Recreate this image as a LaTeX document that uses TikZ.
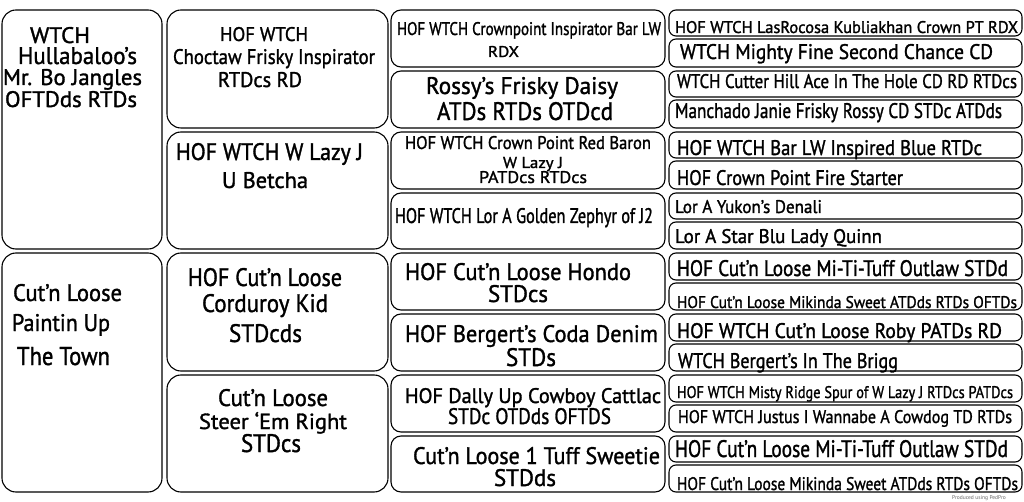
\documentclass[tikz,border=0pt]{standalone}
\usepackage{graphicx}
\usepackage{fontspec}
\setmainfont{PT Sans}
\newfontfamily\pedfont{PT Sans}[FakeBold=1.4]
\newcommand{\fitline}[4]{\resizebox{\dimexpr #2pt-#1pt\relax}{#3pt}{\pedfont #4}}
\tikzset{
  pbox/.style={draw=black, line width=1.1pt, inner sep=0pt, outer sep=0pt},
  ptext/.style={anchor=base, inner sep=0pt, outer sep=0pt, text=black},
}
% \pbx{name}{x1}{y1}{x2}{y2}{radius}
\newcommand{\pbx}[6]{\node[pbox, rounded corners=#6pt, minimum width={#4pt-#2pt}, minimum height={#5pt-#3pt}] (#1) at ({(#2+#4)/2},{(#3+#5)/2}) {};}
% \pl{name}{x1}{x2}{baseline}{height}{text}
\newcommand{\pl}[6]{\node[ptext] (#1) at ({(#2+#3)/2},#4) {\fitline{#2}{#3}{#5}{#6}};}
\begin{document}
\begin{tikzpicture}[x=1pt,y=-1pt]
\useasboundingbox[fill=white] (0,0) rectangle (1024,502);
% column 1
\pbx{a1}{2}{10}{162}{249}{14}
\pbx{a2}{2}{253}{162}{492}{14}
% column 2
\pbx{b1}{167}{10}{388}{128}{14}
\pbx{b2}{167}{132}{388}{249}{14}
\pbx{b3}{167}{253}{388}{371}{14}
\pbx{b4}{167}{375}{388}{492}{14}
% column 3
\pbx{c1}{391}{10}{665}{67}{10}
\pbx{c2}{391}{71}{665}{128}{10}
\pbx{c3}{391}{132}{665}{189}{10}
\pbx{c4}{391}{193}{665}{249}{10}
\pbx{c5}{391}{253}{665}{310}{10}
\pbx{c6}{391}{314}{665}{371}{10}
\pbx{c7}{391}{375}{665}{432}{10}
\pbx{c8}{391}{436}{665}{492}{10}
% column 4
\pbx{d1}{669}{10}{1022}{36}{7}
\pbx{d2}{669}{39}{1022}{67}{7}
\pbx{d3}{669}{71}{1022}{97}{7}
\pbx{d4}{669}{100}{1022}{128}{7}
\pbx{d5}{669}{132}{1022}{158}{7}
\pbx{d6}{669}{161}{1022}{189}{7}
\pbx{d7}{669}{193}{1022}{219}{7}
\pbx{d8}{669}{222}{1022}{249}{7}
\pbx{d9}{669}{253}{1022}{280}{7}
\pbx{d10}{669}{283}{1022}{310}{7}
\pbx{d11}{669}{314}{1022}{341}{7}
\pbx{d12}{669}{344}{1022}{371}{7}
\pbx{d13}{669}{375}{1022}{402}{7}
\pbx{d14}{669}{405}{1022}{432}{7}
\pbx{d15}{669}{436}{1022}{462}{7}
\pbx{d16}{669}{465}{1022}{492}{7}
% texts column 1
\pl{t1a}{30}{90}{43}{16}{WTCH}
\pl{t1b}{18}{137}{64}{17}{Hullabaloo’s}
\pl{t1c}{3}{142}{85}{16}{Mr. Bo Jangles}
\pl{t1d}{5}{137}{107}{16}{OFTDds RTDs}
\pl{t2a}{13}{122}{301}{17}{Cut’n Loose}
\pl{t2b}{12}{110}{331}{17}{Paintin Up}
\pl{t2c}{17}{110}{365}{18}{The Town}
% texts column 2
\pl{t3a}{220}{308}{41}{14}{HOF WTCH}
\pl{t3b}{173}{375}{64}{15}{Choctaw Frisky Inspirator}
\pl{t3c}{218}{302}{87}{15}{RTDcs RD}
\pl{t4a}{176}{363}{160}{17}{HOF WTCH W Lazy J}
\pl{t4b}{222}{308}{188}{16}{U Betcha}
\pl{t5a}{188}{342}{286}{18}{HOF Cut’n Loose}
\pl{t5b}{202}{328}{312}{18}{Corduroy Kid}
\pl{t5c}{229}{302}{342}{18}{STDcds}
\pl{t6a}{218}{328}{406}{17}{Cut’n Loose}
\pl{t6b}{199}{347}{429}{17}{Steer ‘Em Right}
\pl{t6c}{241}{301}{452}{18}{STDcs}
% texts column 3
\pl{t7a}{397}{661}{35}{13}{HOF WTCH Crownpoint Inspirator Bar LW}
\pl{t7b}{488}{519}{57}{11}{RDX}
\pl{t8a}{426}{618}{94}{17}{Rossy’s Frisky Daisy}
\pl{t8b}{437}{613}{120}{18}{ATDs RTDs OTDcd}
\pl{t9a}{405}{651}{149}{13}{HOF WTCH Crown Point Red Baron}
\pl{t9b}{503}{563}{168}{11}{W Lazy J}
\pl{t9c}{479}{587}{183}{12}{PATDcs RTDcs}
\pl{t10}{395}{653}{223}{15}{HOF WTCH Lor A Golden Zephyr of J2}
\pl{t11a}{405}{631}{280}{17}{HOF Cut’n Loose Hondo}
\pl{t11b}{488}{548}{302}{17}{STDcs}
\pl{t12a}{405}{658}{342}{17}{HOF Bergert’s Coda Denim}
\pl{t12b}{506}{556}{366}{18}{STDs}
\pl{t13a}{405}{661}{403}{15}{HOF Dally Up Cowboy Cattlac}
\pl{t13b}{448}{611}{424}{16}{STDc OTDds OFTDS}
\pl{t14a}{413}{660}{464}{17}{Cut’n Loose 1 Tuff Sweetie}
\pl{t14b}{494}{556}{486}{17}{STDds}
% texts column 4
\pl{u1}{675}{1018}{33}{12}{HOF WTCH LasRocosa Kubliakhan Crown PT RDX}
\pl{u2}{680}{993}{59}{15}{WTCH Mighty Fine Second Chance CD}
\pl{u3}{677}{1017}{88}{14}{WTCH Cutter Hill Ace In The Hole CD RD RTDcs}
\pl{u4}{675}{1002}{118}{15}{Manchado Janie Frisky Rossy CD STDc ATDds}
\pl{u5}{677}{982}{155}{15}{HOF WTCH Bar LW Inspired Blue RTDc}
\pl{u6}{677}{903}{185}{15}{HOF Crown Point Fire Starter}
\pl{u7}{675}{822}{213}{13}{Lor A Yukon’s Denali}
\pl{u8}{675}{882}{243}{14}{Lor A Star Blu Lady Quinn}
\pl{u9}{677}{1008}{276}{16}{HOF Cut’n Loose Mi-Ti-Tuff Outlaw STDd}
\pl{u10}{677}{1017}{308}{12}{HOF Cut’n Loose Mikinda Sweet ATDds RTDs OFTDs}
\pl{u11}{677}{1002}{338}{15}{HOF WTCH Cut’n Loose Roby PATDs RD}
\pl{u12}{678}{898}{368}{15}{WTCH Bergert’s In The Brigg}
\pl{u13}{677}{1013}{398}{12}{HOF WTCH Misty Ridge Spur of W Lazy J RTDcs PATDcs}
\pl{u14}{678}{1012}{423}{13}{HOF WTCH Justus I Wannabe A Cowdog TD RTDs}
\pl{u15}{675}{1008}{457}{17}{HOF Cut’n Loose Mi-Ti-Tuff Outlaw STDd}
\pl{u16}{677}{1018}{490}{13}{HOF Cut’n Loose Mikinda Sweet ATDds RTDs OFTDs}
\node[anchor=base, inner sep=0pt, text=black!60, font=\fontsize{5.5}{6}\selectfont] (credit) at (979,499) {Produced using PedPro};
\end{tikzpicture}
\end{document}
